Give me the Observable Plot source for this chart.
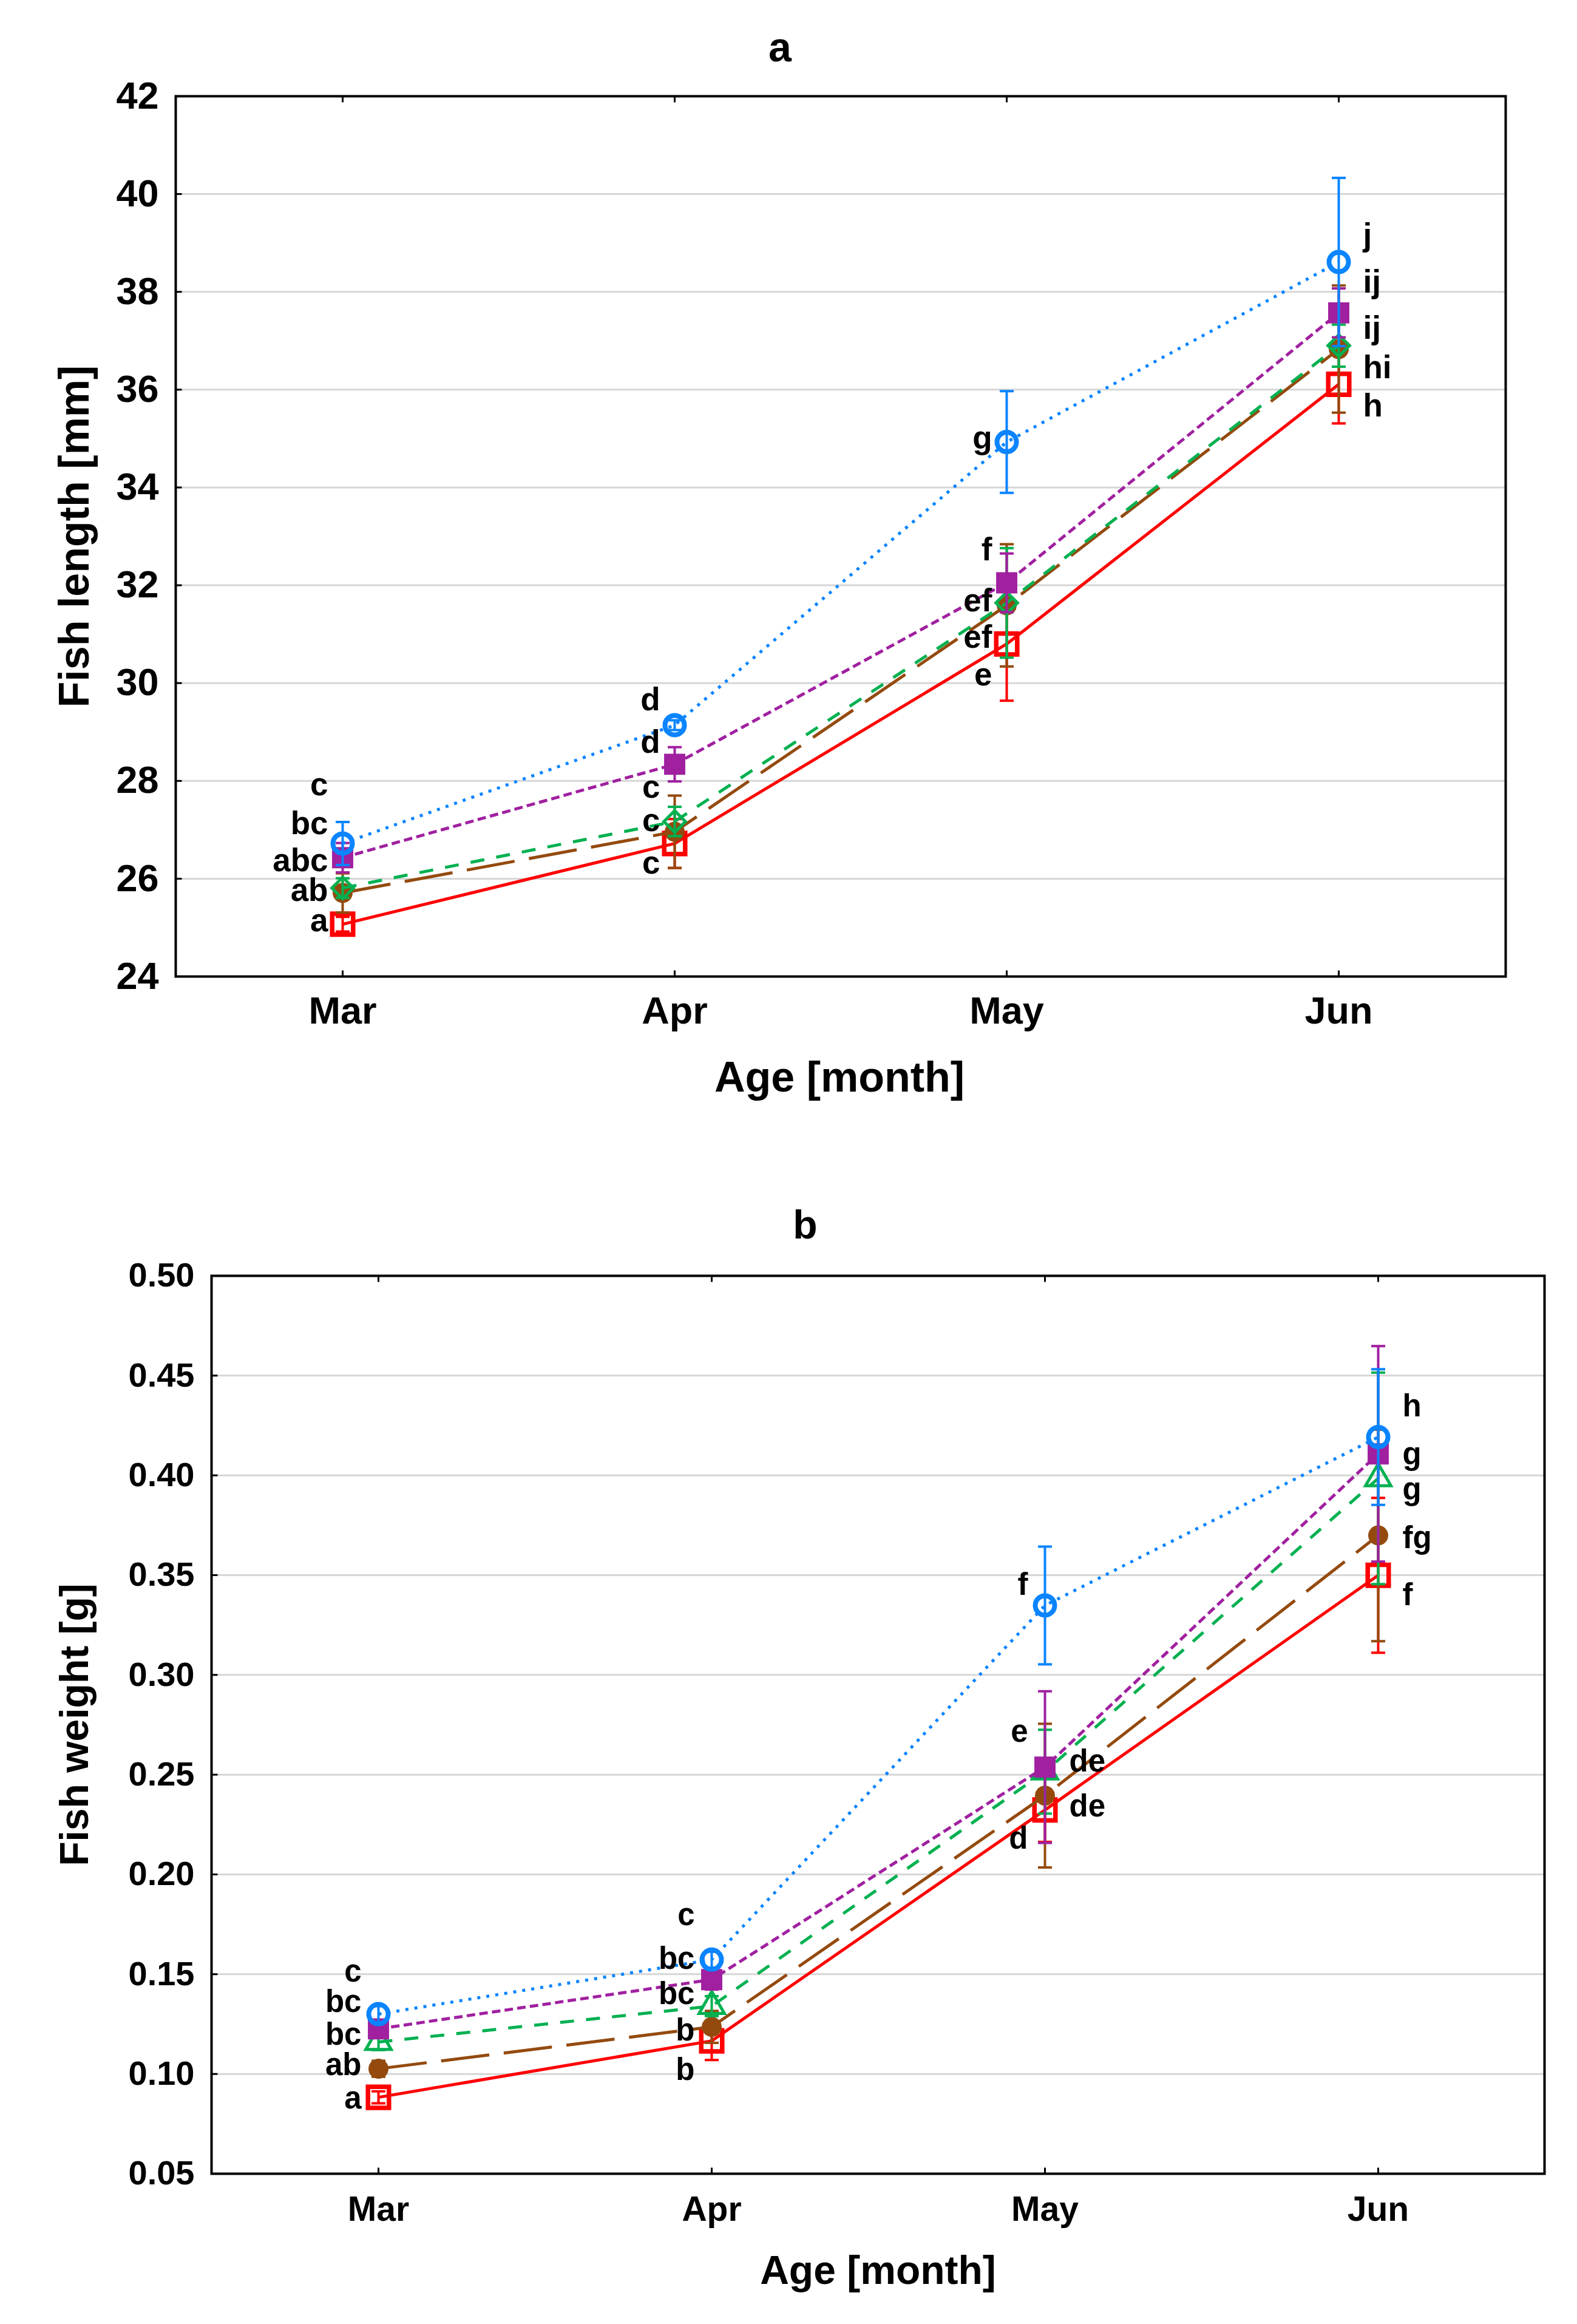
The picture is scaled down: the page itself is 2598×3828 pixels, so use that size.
<!DOCTYPE html>
<html>
<head>
<meta charset="utf-8">
<script src="https://cdn.jsdelivr.net/npm/d3@7"></script>
<script src="https://cdn.jsdelivr.net/npm/@observablehq/plot@0.6"></script>
<style>
html, body { margin: 0; padding: 0; background: #ffffff; }
#chart { width: 2598px; }
#chart svg { display: block; background: #ffffff; }
</style>
</head>
<body>
<div id="chart"></div>
<script>
// ---------- data ----------
const months = ["Mar", "Apr", "May", "Jun"];
const seriesNames = ["T1", "T2", "T3", "T4", "T5"];

// Panel a: fish length [mm]
const yTicksA = [24, 26, 28, 30, 32, 34, 36, 38, 40, 42];
const lenT1 = [25.07, 26.72, 30.80, 36.11];
const lenT2 = [25.71, 26.96, 31.59, 36.83];
const lenT3 = [25.81, 27.17, 31.64, 36.90];
const lenT4 = [26.43, 28.34, 32.05, 37.57];
const lenT5 = [26.72, 29.14, 34.93, 38.61];
const lenErrT1 = [0.15, 0.50, 1.16, 0.80];
const lenErrT2 = [0.40, 0.74, 1.25, 1.30];
const lenErrT3 = [0.20, 0.30, 1.12, 0.43];
const lenErrT4 = [0.30, 0.35, 0.60, 0.50];
const lenErrT5 = [0.44, 0.10, 1.04, 1.72];
const lettersA = [
  {month: "Mar", y: 27.91, t: "c", side: "L"},
  {month: "Mar", y: 27.12, t: "bc", side: "L"},
  {month: "Mar", y: 26.36, t: "abc", side: "L"},
  {month: "Mar", y: 25.75, t: "ab", side: "L"},
  {month: "Mar", y: 25.14, t: "a", side: "L"},
  {month: "Apr", y: 29.65, t: "d", side: "L"},
  {month: "Apr", y: 28.78, t: "d", side: "L"},
  {month: "Apr", y: 27.87, t: "c", side: "L"},
  {month: "Apr", y: 27.18, t: "c", side: "L"},
  {month: "Apr", y: 26.31, t: "c", side: "L"},
  {month: "May", y: 35.00, t: "g", side: "L"},
  {month: "May", y: 32.72, t: "f", side: "L"},
  {month: "May", y: 31.68, t: "ef", side: "L"},
  {month: "May", y: 30.93, t: "ef", side: "L"},
  {month: "May", y: 30.16, t: "e", side: "L"},
  {month: "Jun", y: 39.15, t: "j", side: "R"},
  {month: "Jun", y: 38.19, t: "ij", side: "R"},
  {month: "Jun", y: 37.25, t: "ij", side: "R"},
  {month: "Jun", y: 36.45, t: "hi", side: "R"},
  {month: "Jun", y: 35.66, t: "h", side: "R"}
];

// Panel b: fish weight [g]
const yTicksB = [0.05, 0.10, 0.15, 0.20, 0.25, 0.30, 0.35, 0.40, 0.45, 0.50];
const wT1 = [0.0883, 0.1166, 0.2323, 0.3499];
const wT2 = [0.1026, 0.1236, 0.2395, 0.3699];
const wT3 = [0.1160, 0.1340, 0.2515, 0.3985];
const wT4 = [0.1226, 0.1473, 0.2538, 0.4108];
const wT5 = [0.1300, 0.1573, 0.3348, 0.4192];
const wErrT1 = [0.003, 0.0096, 0.016, 0.0388];
const wErrT2 = [0.004, 0.008, 0.036, 0.053];
const wErrT3 = [0.004, 0.005, 0.021, 0.053];
const wErrT4 = [0.004, 0.005, 0.038, 0.054];
const wErrT5 = [0.004, 0.004, 0.0295, 0.034];
const lettersB = [
  {month: "Mar", y: 0.1512, t: "c", side: "L"},
  {month: "Mar", y: 0.1360, t: "bc", side: "L"},
  {month: "Mar", y: 0.1197, t: "bc", side: "L"},
  {month: "Mar", y: 0.1044, t: "ab", side: "L"},
  {month: "Mar", y: 0.0877, t: "a", side: "L"},
  {month: "Apr", y: 0.1795, t: "c", side: "L"},
  {month: "Apr", y: 0.1576, t: "bc", side: "L"},
  {month: "Apr", y: 0.1400, t: "bc", side: "L"},
  {month: "Apr", y: 0.1217, t: "b", side: "L"},
  {month: "Apr", y: 0.1020, t: "b", side: "L"},
  {month: "May", y: 0.3450, t: "f", side: "L"},
  {month: "May", y: 0.2715, t: "e", side: "L"},
  {month: "May", y: 0.2565, t: "de", side: "R"},
  {month: "May", y: 0.2341, t: "de", side: "R"},
  {month: "May", y: 0.2178, t: "d", side: "L"},
  {month: "Jun", y: 0.4344, t: "h", side: "R"},
  {month: "Jun", y: 0.4104, t: "g", side: "R"},
  {month: "Jun", y: 0.3927, t: "g", side: "R"},
  {month: "Jun", y: 0.3686, t: "fg", side: "R"},
  {month: "Jun", y: 0.3400, t: "f", side: "R"}
];

// ---------- styles ----------
const FONT = "'Liberation Sans', Arial, sans-serif";
const seriesStyle = {
  T1: {color: "#ff0000", dash: null,      symbol: "square",  filled: false, r: 19.5, sw: 7.5},
  T2: {color: "#944a0e", dash: "80,24",   symbol: "circle",  filled: true,  r: 16.5, sw: 0},
  T3: {color: "#00b050", dash: "23,20",   symbol: "diamond2",filled: false, r: 16,   sw: 5},
  T4: {color: "#a020a0", dash: "14,7",    symbol: "square",  filled: true,  r: 19.7, sw: 0},
  T5: {color: "#0a84ff", dash: "5,10",    symbol: "circle",  filled: false, r: 16,   sw: 8}
};

function lineSymbol(x0, y0, x1, y1) {
  return {
    draw(ctx, size) {
      const r = Math.sqrt(size / Math.PI);
      ctx.moveTo(x0 * r, y0 * r);
      ctx.lineTo(x1 * r, y1 * r);
    }
  };
}
const capSymbol = lineSymbol(-1, 0, 1, 0);
const tickUp = lineSymbol(0, 0, 0, -1);
const tickDown = lineSymbol(0, 0, 0, 1);
const tickRight = lineSymbol(0, 0, 1, 0);

function rowsFor(values, errs) {
  const out = [];
  seriesNames.forEach((s, i) => {
    months.forEach((m, j) => out.push({series: s, month: m, value: values[i][j], err: errs[i][j]}));
  });
  return out;
}

function seriesMarks(rows, greenSymbol) {
  const marks = [];
  for (const s of seriesNames) {
    const st = seriesStyle[s];
    const data = rows.filter(d => d.series === s);
    marks.push(Plot.line(data, {
      x: "month", y: "value", stroke: st.color, strokeWidth: 5,
      strokeDasharray: st.dash ?? undefined, strokeLinecap: "butt", strokeLinejoin: "round"
    }));
    marks.push(Plot.ruleX(data, {
      x: "month", y1: d => d.value - d.err, y2: d => d.value + d.err,
      stroke: st.color, strokeWidth: 4
    }));
    marks.push(Plot.dot(data, {
      x: "month", y: d => d.value + d.err, symbol: capSymbol, r: 11.5,
      stroke: st.color, strokeWidth: 4, fill: "none"
    }));
    marks.push(Plot.dot(data, {
      x: "month", y: d => d.value - d.err, symbol: capSymbol, r: 11.5,
      stroke: st.color, strokeWidth: 4, fill: "none"
    }));
    const sym = (s === "T3" && greenSymbol) ? greenSymbol : st.symbol;
    const r = (s === "T3" && greenSymbol === "triangle") ? 15.5 : st.r;
    if (st.filled) {
      marks.push(Plot.dot(data, {x: "month", y: "value", symbol: sym, r, fill: st.color, stroke: "none"}));
    } else {
      marks.push(Plot.dot(data, {x: "month", y: "value", symbol: sym, r, fill: "none", stroke: st.color, strokeWidth: st.sw}));
    }
  }
  return marks;
}

function panel(cfg) {
  return Plot.plot({
    width: 2598,
    height: cfg.height,
    marginTop: cfg.mt, marginBottom: cfg.mb, marginLeft: cfg.ml, marginRight: cfg.mr,
    style: {fontFamily: FONT, fontWeight: "bold", fontSize: cfg.tickFont + "px", color: "#000", background: "#fff"},
    x: {type: "point", domain: months, padding: 0.5},
    y: {domain: cfg.ydomain},
    marks: [
      Plot.gridY({ticks: cfg.yticks, stroke: "#d6d6d6", strokeOpacity: 1, strokeWidth: 3}),
      Plot.axisY({ticks: cfg.yticks, tickSize: 0, tickPadding: 28, tickFormat: cfg.tickFormat,
                  label: null, fontSize: cfg.tickFont, fontWeight: "bold"}),
      Plot.axisX({tickSize: 0, tickPadding: cfg.xPad, label: null, fontSize: cfg.xTickFont, fontWeight: "bold"}),
      Plot.dot(months, {x: d => d, frameAnchor: "bottom", symbol: tickUp, r: 10, stroke: "black", strokeWidth: 3, fill: "none"}),
      Plot.dot(months, {x: d => d, frameAnchor: "top", symbol: tickDown, r: 10, stroke: "black", strokeWidth: 3, fill: "none"}),
      Plot.dot(cfg.yticks, {y: d => d, frameAnchor: "left", symbol: tickRight, r: 10, stroke: "black", strokeWidth: 3, fill: "none"}),
      ...seriesMarks(cfg.rows, cfg.greenSymbol),
      Plot.text(cfg.letters.filter(d => d.side === "L"), {
        x: "month", y: "y", text: "t", textAnchor: "end", dx: cfg.ldx,
        fontSize: cfg.letterFont, fontWeight: "bold", fill: "black"
      }),
      Plot.text(cfg.letters.filter(d => d.side === "R"), {
        x: "month", y: "y", text: "t", textAnchor: "start", dx: cfg.rdx,
        fontSize: cfg.letterFont, fontWeight: "bold", fill: "black"
      }),
      Plot.frame({stroke: "black", strokeWidth: 4}),
      Plot.text([cfg.title], {frameAnchor: "top", dx: cfg.titleDx, dy: cfg.titleDy, textAnchor: "middle",
        fontSize: cfg.titleFont, fontWeight: "bold", fill: "black", lineAnchor: "middle"}),
      Plot.text([cfg.xlabel], {frameAnchor: "bottom", dx: cfg.xlabDx, dy: cfg.xlabDy, textAnchor: "middle",
        fontSize: cfg.labelFont, fontWeight: "bold", fill: "black", lineAnchor: "middle"}),
      Plot.text([cfg.ylabel], {frameAnchor: "left", dx: cfg.ylabDx, rotate: -90, textAnchor: "middle",
        fontSize: cfg.labelFont, fontWeight: "bold", fill: "black", lineAnchor: "middle"})
    ]
  });
}

const rowsA = rowsFor([lenT1, lenT2, lenT3, lenT4, lenT5], [lenErrT1, lenErrT2, lenErrT3, lenErrT4, lenErrT5]);
const rowsB = rowsFor([wT1, wT2, wT3, wT4, wT5], [wErrT1, wErrT2, wErrT3, wErrT4, wErrT5]);

const chartA = panel({
  height: 1900, mt: 158, mb: 292, ml: 289, mr: 118,
  ydomain: [24, 42], yticks: yTicksA, tickFormat: d => String(d),
  tickFont: 63, xTickFont: 63, xPad: 33, letterFont: 53, labelFont: 70, titleFont: 68,
  rows: rowsA, letters: lettersA, greenSymbol: "diamond2",
  ldx: -24, rdx: 40,
  title: "a", titleDx: -100, titleDy: -79,
  xlabel: "Age [month]", xlabDx: -2, xlabDy: 167,
  ylabel: "Fish length [mm]", ylabDx: -166
});

const chartB = panel({
  height: 1928, mt: 201, mb: 248, ml: 348, mr: 54,
  ydomain: [0.05, 0.50], yticks: yTicksB, tickFormat: d3.format(".2f"),
  tickFont: 56, xTickFont: 57, xPad: 37, letterFont: 51, labelFont: 66, titleFont: 66,
  rows: rowsB, letters: lettersB, greenSymbol: "triangle",
  ldx: -28, rdx: 40,
  title: "b", titleDx: -120, titleDy: -83,
  xlabel: "Age [month]", xlabDx: 0, xlabDy: 160,
  ylabel: "Fish weight [g]", ylabDx: -225
});

const root = document.getElementById("chart");
root.appendChild(chartA);
root.appendChild(chartB);
</script>
</body>
</html>
